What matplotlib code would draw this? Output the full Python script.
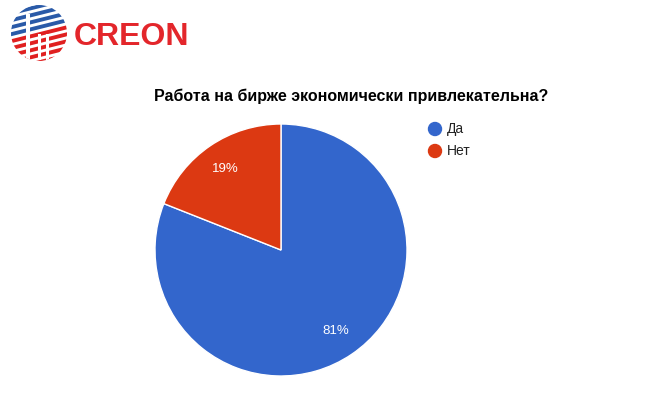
import matplotlib.pyplot as plt
import matplotlib.patches as mpatches
import numpy as np

title = 'Работа на бирже экономически привлекательна?'
labels = ['Да', 'Нет']
values = [81, 19]
colors = ['#3366cc', '#dc3912']

W, H = 662, 409
fig = plt.figure(figsize=(W / 100, H / 100), dpi=100)
fig.patch.set_facecolor('white')

# pie
cx, cy, r = 281, 250, 126
ax = fig.add_axes([(cx - r) / W, (H - cy - r) / H, 2 * r / W, 2 * r / H])
wedges, _, autotexts = ax.pie(values, colors=colors, startangle=90, counterclock=False,
                              autopct='%d%%', pctdistance=0.78,
                              wedgeprops=dict(edgecolor='white', linewidth=1),
                              textprops=dict(color='white', fontsize=9.5,
                                             family='Liberation Sans'))
ax.set_xlim(-1, 1)
ax.set_ylim(-1, 1)
ax.set_aspect('equal')
ax.axis('off')

fig.text(351 / W, 1 - 96 / H, title, ha='center', va='center',
         fontsize=11.5, fontweight='bold', family='Liberation Sans')

# legend
for i, (lab, c) in enumerate(zip(labels, colors)):
    y = 1 - (129 + 22 * i) / H
    fig.patches.append(mpatches.Ellipse((435 / W, y), 13 / W, 13 / H, color=c,
                                        transform=fig.transFigure, figure=fig))
    fig.text(447 / W, y, lab, ha='left', va='center', fontsize=10,
             family='Liberation Sans', color='#222222')

# logo
lax = fig.add_axes([0, 1 - 66 / H, 200 / W, 66 / H])
lax.set_xlim(0, 200)
lax.set_ylim(66, 0)
lax.axis('off')
circ = mpatches.Circle((39, 33), 28, transform=lax.transData)
for k in range(9):
    y0 = 2 + k * 7
    col = '#2a5aa8' if k < 4 else '#e02020'
    band = mpatches.Polygon([[0, y0 + 12], [80, y0 - 8], [80, y0 - 4], [0, y0 + 16]],
                            closed=True, color=col, lw=0)
    lax.add_patch(band)
    band.set_clip_path(circ)
post = mpatches.Rectangle((26, 14), 4, 46, color='white', lw=0)
lax.add_patch(post)
post.set_clip_path(circ)
for x0 in (38, 46):
    p = mpatches.Rectangle((x0, 34), 3, 26, color='white', lw=0)
    lax.add_patch(p)
    p.set_clip_path(circ)
lax.text(74, 37, 'CREON', fontsize=23, fontweight='bold', color='#e3262b',
         family='Liberation Sans', va='center', ha='left')

fig.savefig('out.png', dpi=100)
